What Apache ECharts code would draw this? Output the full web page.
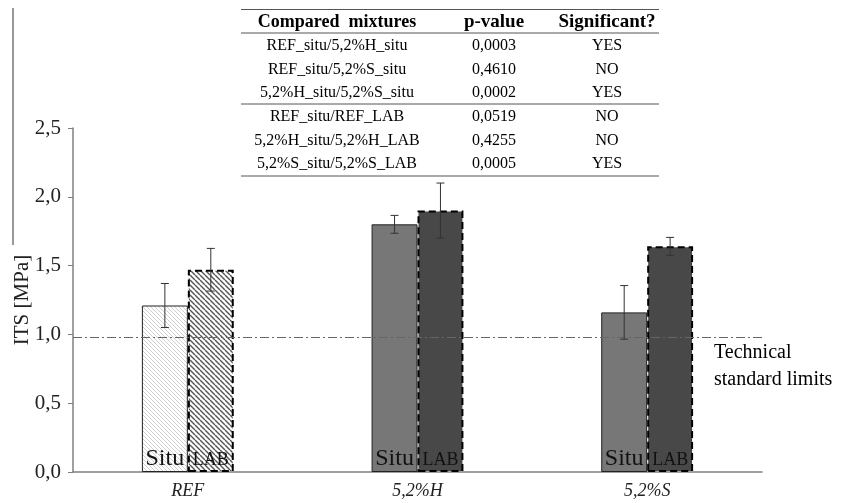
<!DOCTYPE html>
<html>
<head>
<meta charset="utf-8">
<script src="https://cdn.jsdelivr.net/npm/echarts@6/dist/echarts.min.js"></script>
<style>
  html, body { margin: 0; padding: 0; background: #fff; }
  #chart { width: 841px; height: 503px; }
</style>
</head>
<body>
<div id="chart"></div>
<script>
// Mixtures and measured indirect tensile strength (MPa)
const categories = ['REF', '5,2%H', '5,2%S'];
const situMeans = [1.21, 1.80, 1.16];
const situErr = [0.16, 0.065, 0.195];
const labMeans = [1.47, 1.90, 1.64];
const labErr = [0.155, 0.20, 0.065];
const limitValue = 0.98;
const yTicks = [0, 0.5, 1.0, 1.5, 2.0, 2.5];

// Statistical comparison table
const tableHeader = ['Compared  mixtures', 'p-value', 'Significant?'];
const comparedPairs = [
  'REF_situ/5,2%H_situ', 'REF_situ/5,2%S_situ', '5,2%H_situ/5,2%S_situ',
  'REF_situ/REF_LAB', '5,2%H_situ/5,2%H_LAB', '5,2%S_situ/5,2%S_LAB'
];
const pValues = ['0,0003', '0,4610', '0,0002', '0,0519', '0,4255', '0,0005'];
const significant = ['YES', 'NO', 'YES', 'NO', 'NO', 'YES'];

const SERIF = '"Liberation Serif", "Times New Roman", serif';

function hatch(size, color, width) {
  const c = document.createElement('canvas');
  c.width = size; c.height = size;
  const ctx = c.getContext('2d');
  ctx.fillStyle = '#fff';
  ctx.fillRect(0, 0, size, size);
  ctx.strokeStyle = color;
  ctx.lineWidth = width;
  for (const x0 of [-size, 0, size]) {
    ctx.beginPath();
    ctx.moveTo(x0, 0);
    ctx.lineTo(x0 + size, size);
    ctx.stroke();
  }
  return { image: c, repeat: 'repeat' };
}

const situRefFill = hatch(4, '#d0d0d0', 1);
const labRefFill = hatch(5, '#555555', 1.4);

const situData = situMeans.map((v, i) => ({
  value: v,
  itemStyle: { color: i === 0 ? situRefFill : '#777777' }
}));
const labData = labMeans.map((v, i) => ({
  value: v,
  itemStyle: { color: i === 0 ? labRefFill : '#484848' }
}));

function errorSeries(means, errs, side) {
  return {
    type: 'custom',
    z: 10,
    data: means.map((m, i) => [i, m - errs[i], m + errs[i]]),
    renderItem: function (params, api) {
      const band = api.size([1, 0])[0];
      const off = side * band * 0.1;
      const lo = api.coord([api.value(0), api.value(1)]);
      const hi = api.coord([api.value(0), api.value(2)]);
      const x = lo[0] + off;
      const cap = 4;
      const style = { stroke: '#333', lineWidth: 1 };
      return {
        type: 'group',
        children: [
          { type: 'line', shape: { x1: x, y1: hi[1], x2: x, y2: lo[1] }, style },
          { type: 'line', shape: { x1: x - cap, y1: hi[1], x2: x + cap, y2: hi[1] }, style },
          { type: 'line', shape: { x1: x - cap, y1: lo[1], x2: x + cap, y2: lo[1] }, style }
        ]
      };
    }
  };
}

// Table drawn as graphic elements
const colX = [337, 494, 607];
const rowY = [46, 70, 93, 117, 141, 164];
const tableGraphics = [];
const ruleStyle = { stroke: '#555', lineWidth: 1 };
[9.5, 33, 104, 176].forEach(y => {
  tableGraphics.push({ type: 'line', shape: { x1: 241, y1: y, x2: 659, y2: y }, style: ruleStyle });
});
tableHeader.forEach((t, j) => {
  tableGraphics.push({
    type: 'text', x: colX[j], y: 22,
    style: { text: t, font: 'bold ' + (j === 0 ? 18 : 19) + 'px ' + SERIF, fill: '#000', align: 'center', verticalAlign: 'middle' }
  });
});
comparedPairs.forEach((p, i) => {
  [p, pValues[i], significant[i]].forEach((t, j) => {
    tableGraphics.push({
      type: 'text', x: colX[j], y: rowY[i],
      style: { text: t, font: '16px ' + SERIF, fill: '#000', align: 'center', verticalAlign: 'middle' }
    });
  });
});
tableGraphics.push({ type: 'line', shape: { x1: 13, y1: 8, x2: 13, y2: 245 }, style: { stroke: '#777', lineWidth: 1.5 } });
tableGraphics.push({
  type: 'text', x: 714, y: 366,
  style: { text: 'Technical\nstandard limits', font: '20px ' + SERIF, fill: '#000', lineHeight: 27, verticalAlign: 'middle' }
});

const chart = echarts.init(document.getElementById('chart'));
chart.setOption({
  animation: false,
  backgroundColor: '#fff',
  grid: { left: 73, right: 79, top: 128, bottom: 31, containLabel: false, outerBoundsMode: 'none' },
  xAxis: {
    type: 'category',
    data: categories,
    axisLine: { lineStyle: { color: '#808080', width: 1.5 } },
    axisTick: { show: false },
    axisLabel: { fontFamily: SERIF, fontStyle: 'italic', fontSize: 18, color: '#222', margin: 10 }
  },
  yAxis: {
    type: 'value',
    min: 0, max: 2.5, interval: 0.5,
    name: 'ITS [MPa]',
    nameLocation: 'middle',
    nameGap: 40,
    nameMoveOverlap: false,
    nameTextStyle: { fontFamily: SERIF, fontSize: 21, color: '#222' },
    axisLine: { show: true, lineStyle: { color: '#808080', width: 1.5 } },
    axisTick: { show: true, length: 5, lineStyle: { color: '#808080' } },
    splitLine: { show: false },
    axisLabel: {
      fontFamily: SERIF, fontSize: 21, color: '#222', margin: 12,
      formatter: v => yTicks.includes(v) ? v.toFixed(1).replace('.', ',') : ''
    }
  },
  series: [
    {
      name: 'Situ',
      type: 'bar',
      data: situData,
      barWidth: '20%',
      barGap: '0%',
      itemStyle: { borderColor: '#222', borderWidth: 1 },
      label: {
        show: true, position: 'insideBottom', distance: 1,
        formatter: 'Situ', fontFamily: SERIF, fontSize: 24, color: '#111'
      },
      markLine: {
        silent: true,
        symbol: 'none',
        label: { show: false },
        lineStyle: { color: '#666', width: 1, type: [9, 3, 2, 3] },
        data: [{ yAxis: limitValue }]
      }
    },
    {
      name: 'LAB',
      type: 'bar',
      data: labData,
      barWidth: '20%',
      barGap: '0%',
      itemStyle: { borderColor: '#000', borderWidth: 2, borderType: [7, 4] },
      label: {
        show: true, position: 'insideBottom', distance: 3,
        formatter: 'LAB', fontFamily: SERIF, fontSize: 18, color: '#111'
      }
    },
    errorSeries(situMeans, situErr, -1),
    errorSeries(labMeans, labErr, 1)
  ],
  graphic: tableGraphics
});
</script>
</body>
</html>
